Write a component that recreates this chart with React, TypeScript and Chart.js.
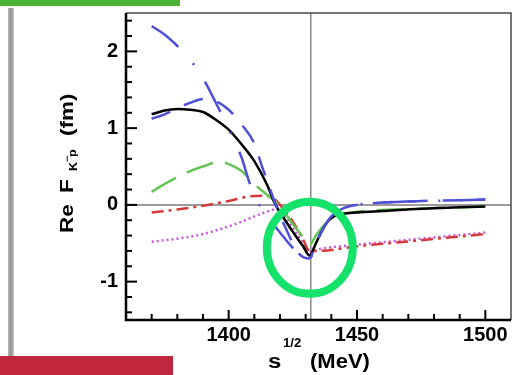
import React, { useEffect, useRef } from "react";
import { Chart, registerables } from "chart.js";

Chart.register(...registerables);

// ---- axis ticks ----
const xTicks = [1400, 1450, 1500];
const xTickLabels = ["1400", "1450", "1500"];
const yTicks = [-1, 0, 1, 2];
const yTickLabels = ["-1", "0", "1", "2"];
const xMinorTicks = [1370, 1380, 1390, 1410, 1420, 1430, 1440, 1460, 1470, 1480, 1490];
const yMinorTicks = [-1.4, -1.2, -0.8, -0.6, -0.4, -0.2, 0.2, 0.4, 0.6, 0.8, 1.2, 1.4, 1.6, 1.8, 2.2, 2.4];
const threshold = 1432;

// ---- series ----
const blackX = [1370, 1375, 1380, 1385, 1390, 1395, 1400, 1405, 1410, 1415, 1418, 1422, 1426, 1429, 1431.5, 1434, 1436, 1438.5, 1441, 1444, 1450, 1460, 1475, 1490, 1500];
const blackY = [1.18, 1.23, 1.25, 1.24, 1.21, 1.11, 0.98, 0.79, 0.57, 0.26, 0.02, -0.2, -0.4, -0.54, -0.66, -0.5, -0.36, -0.22, -0.15, -0.12, -0.1, -0.08, -0.05, -0.03, -0.02];

const blueAX = [1370, 1375, 1380, 1385, 1390, 1395, 1400, 1405, 1408, 1411, 1415, 1420, 1425, 1429, 1431.5, 1434, 1437, 1440, 1445, 1450, 1460, 1475, 1490, 1500];
const blueAY = [2.33, 2.22, 2.07, 1.89, 1.65, 1.33, 0.99, 0.62, 0.3, 0.06, -0.15, -0.36, -0.56, -0.68, -0.7, -0.5, -0.3, -0.15, -0.04, 0.0, 0.03, 0.05, 0.06, 0.07];

const blueBX = [1370, 1375, 1380, 1385, 1390, 1395, 1400, 1405, 1410, 1413, 1416, 1419, 1423, 1427, 1431.5, 1434, 1437, 1440, 1445, 1450, 1460, 1475, 1490, 1500];
const blueBY = [1.12, 1.18, 1.26, 1.33, 1.38, 1.35, 1.24, 1.05, 0.8, 0.5, 0.22, -0.06, -0.36, -0.62, -0.7, -0.5, -0.3, -0.15, -0.04, 0.0, 0.03, 0.05, 0.06, 0.07];

const greenX = [1370, 1375, 1380, 1385, 1390, 1395, 1398, 1400, 1405, 1410, 1415, 1420, 1425, 1429, 1431.5, 1434, 1437, 1441, 1445, 1450, 1475, 1500];
const greenY = [0.17, 0.27, 0.36, 0.44, 0.5, 0.55, 0.55, 0.53, 0.44, 0.27, 0.13, -0.02, -0.25, -0.42, -0.52, -0.4, -0.27, -0.17, -0.12, -0.09, -0.05, -0.02];

const redX = [1370, 1380, 1390, 1400, 1408, 1414, 1418, 1421, 1425, 1429, 1431.5, 1435, 1450, 1475, 1500];
const redY = [-0.1, -0.06, -0.01, 0.05, 0.11, 0.12, 0.07, -0.04, -0.22, -0.45, -0.6, -0.6, -0.54, -0.46, -0.38];

const magentaX = [1370, 1380, 1390, 1400, 1405, 1410, 1414, 1418, 1421, 1425, 1429, 1431.5, 1435, 1450, 1475, 1500];
const magentaY = [-0.48, -0.44, -0.38, -0.28, -0.22, -0.15, -0.1, -0.06, -0.1, -0.3, -0.5, -0.62, -0.58, -0.52, -0.44, -0.36];

const pts = (xs: number[], ys: number[]) => xs.map((x, i) => ({ x, y: ys[i] }));

const FONT = "'Liberation Sans', Arial, Helvetica, sans-serif";

const decor = {
  id: "decor",
  beforeDatasetsDraw(chart: any) {
    const { ctx, chartArea: a, scales } = chart;
    const x = scales.x;
    const y = scales.y;
    ctx.save();
    ctx.strokeStyle = "#7a7a7a";
    ctx.lineWidth = 1.5;
    const y0 = y.getPixelForValue(0);
    ctx.beginPath();
    ctx.moveTo(a.left, y0);
    ctx.lineTo(a.right, y0);
    ctx.stroke();
    const xt = x.getPixelForValue(threshold);
    ctx.strokeStyle = "#8a8a8a";
    ctx.beginPath();
    ctx.moveTo(xt, a.top);
    ctx.lineTo(xt, a.bottom);
    ctx.stroke();
    ctx.restore();
  },
  afterDraw(chart: any) {
    const { ctx, chartArea: a, scales } = chart;
    const x = scales.x;
    const y = scales.y;
    ctx.save();
    // frame
    ctx.strokeStyle = "#4a4a4a";
    ctx.lineWidth = 1.5;
    ctx.beginPath();
    ctx.moveTo(a.left, a.top);
    ctx.lineTo(a.right, a.top);
    ctx.lineTo(a.right, a.bottom);
    ctx.stroke();
    ctx.strokeStyle = "#000";
    ctx.lineWidth = 2.5;
    ctx.beginPath();
    ctx.moveTo(a.left, a.top);
    ctx.lineTo(a.left, a.bottom);
    ctx.lineTo(a.right, a.bottom);
    ctx.stroke();
    // inward ticks
    ctx.lineWidth = 2;
    const tick = (px: number, len: number, vertical: boolean) => {
      ctx.beginPath();
      if (vertical) {
        ctx.moveTo(px, a.bottom);
        ctx.lineTo(px, a.bottom - len);
      } else {
        ctx.moveTo(a.left, px);
        ctx.lineTo(a.left + len, px);
      }
      ctx.stroke();
    };
    xTicks.forEach((v) => tick(x.getPixelForValue(v), 10, true));
    xMinorTicks.forEach((v) => tick(x.getPixelForValue(v), 6, true));
    yTicks.forEach((v) => tick(y.getPixelForValue(v), 11, false));
    yMinorTicks.forEach((v) => tick(y.getPixelForValue(v), 6, false));

    // highlight circle
    ctx.strokeStyle = "#14e26a";
    ctx.lineWidth = 8;
    ctx.beginPath();
    ctx.ellipse(x.getPixelForValue(threshold) - 1, y.getPixelForValue(-0.56), 43, 46, 0, 0, Math.PI * 2);
    ctx.stroke();

    // slide decorations
    ctx.fillStyle = "#4cb335";
    ctx.fillRect(0, 0, 180, 6);
    const g = ctx.createLinearGradient(8, 0, 14, 0);
    g.addColorStop(0, "#b8b8b8");
    g.addColorStop(0.5, "#909090");
    g.addColorStop(1, "#c8c8c8");
    ctx.fillStyle = g;
    ctx.fillRect(8, 8, 6, 350);
    ctx.fillStyle = "#c0273d";
    ctx.fillRect(0, 356, 173, 19);

    // y-axis title
    ctx.fillStyle = "#000";
    ctx.textBaseline = "alphabetic";
    ctx.textAlign = "left";
    const bx = 73;
    const piece = (text: string, yStart: number, size: number, dv: number) => {
      ctx.save();
      ctx.translate(bx + dv, yStart);
      ctx.rotate(-Math.PI / 2);
      ctx.scale(1.25, 1);
      ctx.font = `bold ${size}px ${FONT}`;
      ctx.fillText(text, 0, 0);
      ctx.restore();
    };
    piece("Re", 233, 18, 0);
    piece("F", 193, 18, 0);
    piece("K", 171, 10, 4);
    piece("\u2212", 162, 9, -3);
    piece("p", 157, 10, 3);
    piece("(fm)", 136, 18, 0);

    // x-axis title
    const hpiece = (text: string, xStart: number, yBase: number, size: number, sx: number) => {
      ctx.save();
      ctx.translate(xStart, yBase);
      ctx.scale(sx, 1);
      ctx.font = `bold ${size}px ${FONT}`;
      ctx.fillText(text, 0, 0);
      ctx.restore();
    };
    hpiece("s", 268, 368, 20, 1.2);
    hpiece("1/2", 283, 347, 12, 1.1);
    hpiece("(MeV)", 310, 368, 20, 1.1);
    ctx.restore();
  },
};

export default function App() {
  const ref = useRef<HTMLCanvasElement>(null);
  useEffect(() => {
    const line = (label: string, xs: number[], ys: number[], color: string, dash: number[], width: number) => ({
      label,
      data: pts(xs, ys),
      borderColor: color,
      backgroundColor: color,
      borderWidth: width,
      borderDash: dash,
      pointRadius: 0,
      fill: false,
      cubicInterpolationMode: "monotone" as const,
    });
    const chart = new Chart(ref.current!, {
      type: "line",
      data: {
        datasets: [
          line("blue A", blueAX, blueAY, "#4f50d8", [34, 22, 2, 20], 2.5),
          line("blue B", blueBX, blueBY, "#4f50d8", [20, 15], 2.5),
          line("black", blackX, blackY, "#000000", [], 2.5),
          line("green", greenX, greenY, "#66c455", [28, 12], 2.5),
          line("red", redX, redY, "#d43a3a", [12, 5, 3, 5], 2.5),
          line("magenta", magentaX, magentaY, "#cc55e0", [2, 3], 2.5),
        ],
      },
      options: {
        animation: false,
        responsive: false,
        devicePixelRatio: 1,
        layout: { padding: { left: 0, top: 13, right: 5, bottom: 0 } },
        plugins: { legend: { display: false }, tooltip: { enabled: false } },
        scales: {
          x: {
            type: "linear",
            min: 1360,
            max: 1510,
            afterBuildTicks: (s: any) => {
              s.ticks = xTicks.map((v) => ({ value: v }));
            },
            afterFit: (s: any) => {
              s.height = 55;
              s.paddingLeft = 0;
              s.paddingRight = 0;
            },
            grid: { display: false, drawTicks: false },
            border: { display: false },
            ticks: {
              padding: 3,
              maxRotation: 0,
              autoSkip: false,
              color: "#000",
              font: { family: FONT, size: 20, weight: "bold" },
              callback: (v: any) => xTickLabels[xTicks.indexOf(Number(v))] ?? "",
            },
          },
          y: {
            type: "linear",
            min: -1.5,
            max: 2.5,
            afterBuildTicks: (s: any) => {
              s.ticks = yTicks.map((v) => ({ value: v }));
            },
            afterFit: (s: any) => {
              s.width = 126;
              s.paddingTop = 0;
              s.paddingBottom = 0;
            },
            grid: { display: false, drawTicks: false },
            border: { display: false },
            ticks: {
              padding: 8,
              autoSkip: false,
              color: "#000",
              font: { family: FONT, size: 20, weight: "bold" },
              callback: (v: any) => yTickLabels[yTicks.indexOf(Number(v))] ?? "",
            },
          },
        },
      },
      plugins: [decor],
    });
    return () => chart.destroy();
  }, []);
  return (
    <div style={{ position: "fixed", left: 0, top: 0, width: 516, height: 375, background: "#fff" }}>
      <canvas ref={ref} width={516} height={375} style={{ width: 516, height: 375, display: "block" }} />
    </div>
  );
}
